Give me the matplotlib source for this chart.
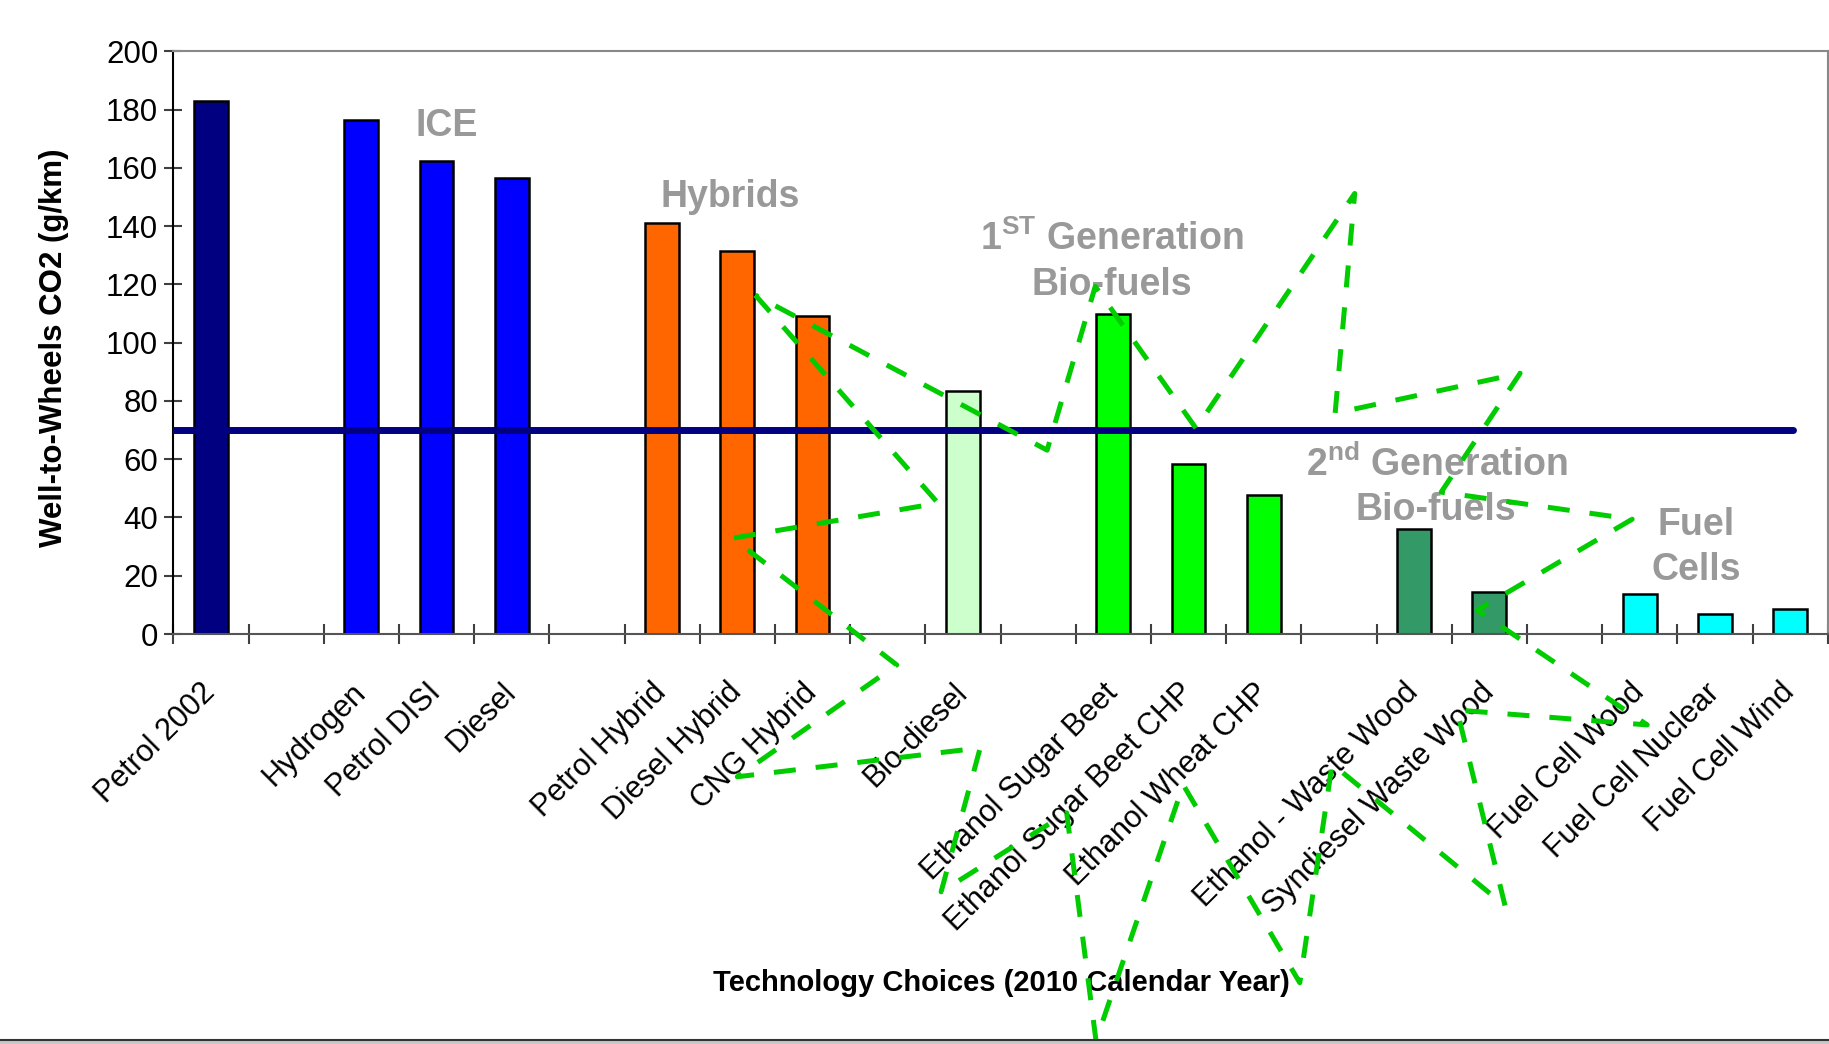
import numpy as np
import matplotlib
matplotlib.use('Agg')
import matplotlib.pyplot as plt
from matplotlib import font_manager
from matplotlib.lines import Line2D
from matplotlib.patches import Rectangle

plt.rcParams['font.family'] = ['Liberation Sans', 'DejaVu Sans']
plt.rcParams['mathtext.fontset'] = 'custom'
plt.rcParams['mathtext.rm'] = 'Liberation Sans:bold'
plt.rcParams['mathtext.it'] = 'Liberation Sans:bold'
plt.rcParams['mathtext.bf'] = 'Liberation Sans:bold'

# narrow face for the x axis title if the box has it
font_names = set(f.name for f in font_manager.fontManager.ttflist)
has_narrow = 'Liberation Sans Narrow' in font_names

# data - slot index of each bar, empty slots split the groups
n_slots = 22
slots = [0, 2, 3, 4, 6, 7, 8, 10, 12, 13, 14, 16, 17, 19, 20, 21]
techs = ['Petrol 2002', 'Hydrogen', 'Petrol DISI', 'Diesel',
         'Petrol Hybrid', 'Diesel Hybrid', 'CNG Hybrid', 'Bio-diesel',
         'Ethanol Sugar Beet', 'Ethanol Sugar Beet CHP', 'Ethanol Wheat CHP',
         'Ethanol - Waste Wood', 'Syndiesel Waste Wood',
         'Fuel Cell Wood', 'Fuel Cell Nuclear', 'Fuel Cell Wind']
co2 = [183.1, 176.3, 162.4, 156.4, 141.0, 131.5, 109.1, 83.4,
       110.0, 58.3, 47.8, 35.9, 14.5, 13.7, 6.8, 8.5]
colors = ['#000080', '#0000FF', '#0000FF', '#0000FF',
          '#FF6600', '#FF6600', '#FF6600', '#CCFFCC',
          '#00FF00', '#00FF00', '#00FF00', '#339966', '#339966',
          '#00FFFF', '#00FFFF', '#00FFFF']

target = 70
target_start = -0.5
target_end = 21.04

group_text = ['ICE', 'Hybrids', '1$^{\\mathrm{ST}}$ Generation', 'Bio-fuels',
              '2$^{\\mathrm{nd}}$ Generation', 'Bio-fuels', 'Fuel', 'Cells']
group_x = [3.13, 6.90, 11.98, 11.98, 16.31, 16.29, 19.75, 19.75]
group_y = [171.1, 146.5, 131.7, 116.3, 54.2, 39.1, 34.0, 18.5]

# the green dashed outline drawn over the chart
star_x = [7.24, 9.67, 6.94, 9.12, 7.00, 10.23, 9.71, 11.38, 11.77, 12.93, 14.48, 14.91,
          17.21, 16.57, 19.10, 16.84, 18.90, 16.36, 17.41, 14.95, 15.21, 13.10, 11.76, 11.12]
star_y = [116.3, 44.9, 32.9, -10.6, -49.0, -39.1, -88.5, -61.4, -139.6, -51.8, -119.7, -44.6,
          -93.3, -26.1, -31.2, 8.2, 39.4, 48.7, 89.5, 75.8, 151.2, 70.6, 119.3, 63.1]

fig = plt.figure(figsize=(18.29, 10.44), dpi=100)
ax = fig.add_axes([173.3 / 1829, 1 - 634 / 1044, 1654.4 / 1829, 582.7 / 1044])

ax.bar(slots, co2, width=0.45, color=colors, edgecolor='black', linewidth=1.8, zorder=2)
ax.plot([target_start, target_end], [target, target], color='#000080', lw=5,
        solid_capstyle='round', zorder=3)

for t, x, y in zip(group_text, group_x, group_y):
    ax.text(x, y, t, ha='center', va='baseline', fontsize=27, fontweight='bold',
            color='#999999', zorder=4)

ax.plot(star_x + star_x[:1], star_y + star_y[:1], color='#00CC00', lw=3.6,
        linestyle=(0, (4.4, 4.0)), dash_capstyle='butt', clip_on=False, zorder=6)

ax.set_xlim(-0.5, n_slots - 0.5)
ax.set_ylim(0, 200)
ax.set_yticks(np.arange(0, 201, 20))
ax.set_xticks(slots)
ax.set_xticklabels(techs)
ax.set_xticks(np.arange(-0.5, n_slots, 1), minor=True)
for lab in ax.get_xticklabels():
    lab.set_rotation(45)
    lab.set_ha('right')
    lab.set_va('center')
    lab.set_rotation_mode('anchor')

ax.tick_params(axis='x', which='major', length=0, pad=39, labelsize=22)
ax.tick_params(axis='x', which='minor', direction='inout', length=15, width=1.5, color='#404040')
ax.tick_params(axis='y', direction='inout', length=12.7, width=1.5, color='#404040',
               pad=4.5, labelsize=22.5)

ax.spines['left'].set_color('black')
ax.spines['bottom'].set_color('#555555')
ax.spines['top'].set_color('#888888')
ax.spines['right'].set_color('#888888')
for s in ax.spines.values():
    s.set_linewidth(1.5)

ax.set_ylabel('Well-to-Wheels CO2 (g/km)', fontsize=22.5, fontweight='bold')
ax.yaxis.set_label_coords(-0.063, 0.492)
if has_narrow:
    ax.set_xlabel('Technology Choices (2010 Calendar Year)', fontsize=25, fontweight='bold',
                  family=['Liberation Sans Narrow', 'Liberation Sans'])
else:
    ax.set_xlabel('Technology Choices (2010 Calendar Year)', fontsize=21, fontweight='bold')
ax.xaxis.label.set_va('center')
ax.xaxis.set_label_coords(0.5003, -0.5986)

# frame line along the bottom of the picture
fig.add_artist(Rectangle((0, 0), 1, 0.0035, transform=fig.transFigure,
                         color='#c8c8c8', lw=0))
fig.add_artist(Line2D([0, 1], [0.0038, 0.0038], transform=fig.transFigure,
                      color='#333333', lw=1.5))

fig.savefig('out.png', dpi=100)
